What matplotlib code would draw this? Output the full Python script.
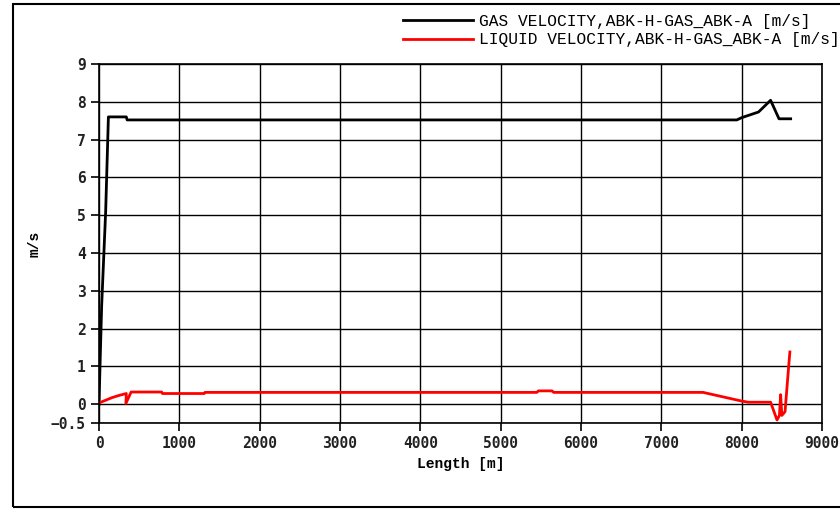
import matplotlib.pyplot as plt
from matplotlib.patches import Rectangle

# Gas velocity along the pipe
gas_x = [0, 17, 33, 58, 83, 100, 117, 340, 350, 7940, 8000, 8210, 8360, 8465, 8610]
gas_y = [0, 1.35, 2.6, 3.85, 5.1, 6.35, 7.6, 7.6, 7.52, 7.52, 7.58, 7.73, 8.04, 7.55, 7.55]

# Liquid velocity along the pipe
liq_x = [0, 80, 160, 250, 340, 335, 400, 780, 790, 1310, 1320, 5450, 5470, 5640, 5660,
         7520, 7980, 8080, 8360, 8440, 8470, 8485, 8500, 8540, 8570, 8600]
liq_y = [0.03, 0.1, 0.17, 0.23, 0.28, 0.02, 0.32, 0.32, 0.28, 0.28, 0.31, 0.31, 0.35, 0.35, 0.31,
         0.31, 0.09, 0.05, 0.05, -0.42, -0.3, 0.25, -0.3, -0.2, 0.6, 1.38]

x_ticks = [0, 1000, 2000, 3000, 4000, 5000, 6000, 7000, 8000, 9000]
y_ticks = [-0.5, 0, 1, 2, 3, 4, 5, 6, 7, 8, 9]
y_tick_labels = ['\u22120.5', '0', '1', '2', '3', '4', '5', '6', '7', '8', '9']

fig = plt.figure(figsize=(8.4, 5.09), dpi=100)
ax = fig.add_axes([99 / 840, 1 - 423 / 509, 723 / 840, 359 / 509])

ax.plot(gas_x, gas_y, color='black', lw=2.0, label='GAS VELOCITY,ABK-H-GAS_ABK-A [m/s]')
ax.plot(liq_x, liq_y, color='red', lw=2.0, label='LIQUID VELOCITY,ABK-H-GAS_ABK-A [m/s]')

ax.set_xlim(0, 9000)
ax.set_ylim(-0.5, 9)
ax.set_xticks(x_ticks)
ax.set_yticks(y_ticks)
ax.set_yticklabels(y_tick_labels)
ax.grid(True, color='black', lw=1.0)
ax.set_axisbelow(True)
for s in ax.spines.values():
    s.set_linewidth(1.2)
ax.tick_params(direction='out', length=6, width=1.2, color='black')
for lbl in ax.get_xticklabels() + ax.get_yticklabels():
    lbl.set_fontfamily('DejaVu Sans Mono')
    lbl.set_fontweight('bold')
    lbl.set_fontsize(10.5)
    lbl.set_color('#222222')

ax.set_xlabel('Length [m]', family='Liberation Mono', fontweight='bold', fontsize=10.5, labelpad=4)
ax.set_ylabel('m/s', family='Liberation Mono', fontweight='bold', fontsize=10.5)
ax.yaxis.set_label_coords(-0.08, 0.5)

leg = fig.legend(loc='upper left', bbox_to_anchor=(403 / 840, 1 - 14 / 509), frameon=False,
                 prop={'family': 'Liberation Mono', 'size': 11.7}, handlelength=4.3,
                 handletextpad=0.35, labelspacing=0.2, borderaxespad=0, borderpad=0)

# outer frame of the picture
fig.add_artist(Rectangle((13 / 840, 2 / 509), 0.99, 1 - 6 / 509, transform=fig.transFigure,
                         fill=False, edgecolor='black', lw=1.5, clip_on=False))

fig.savefig('out.png', dpi=100)
